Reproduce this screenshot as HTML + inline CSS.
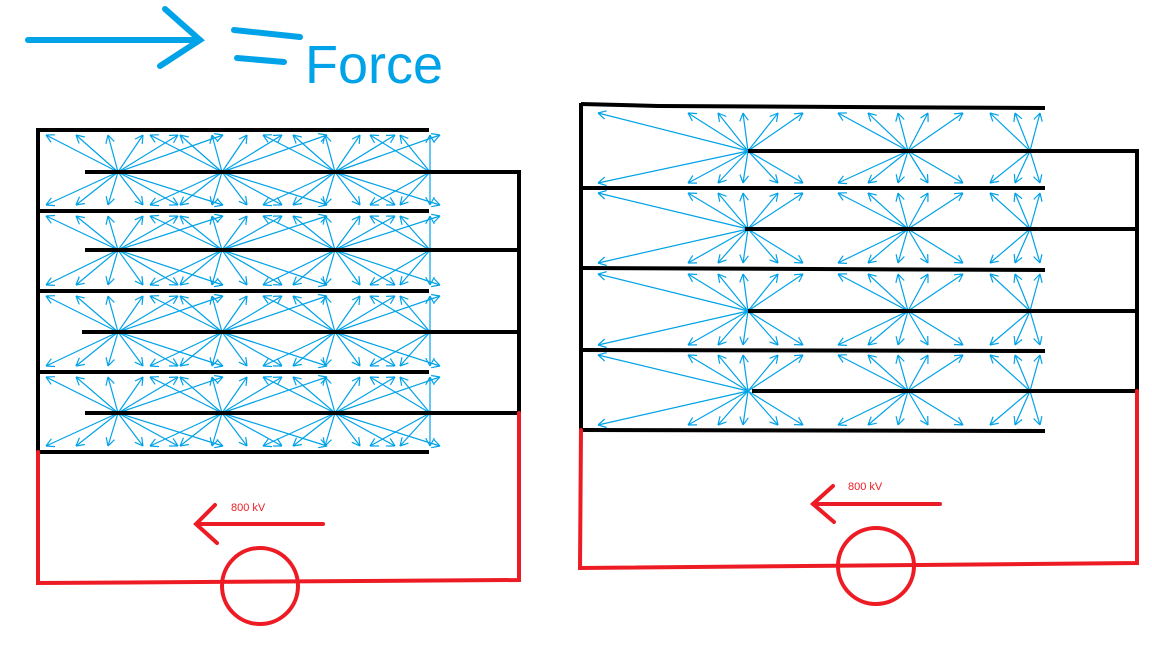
<!DOCTYPE html>
<html><head><meta charset="utf-8"><style>
html,body{margin:0;padding:0;background:#fff;width:1152px;height:648px;overflow:hidden}
svg{display:block}
</style></head><body>
<svg id="s" width="1152" height="648" viewBox="0 0 1152 648" xmlns="http://www.w3.org/2000/svg">
<g id="fans" stroke="#00a2e8" stroke-width="1.2" fill="none"></g>
<g stroke="#00a2e8" stroke-width="6" stroke-linecap="round" fill="none">
<line x1="28" y1="40" x2="200" y2="40"/>
<polyline points="165,9 200,40 160,66"/>
<line x1="234" y1="30" x2="300" y2="37"/>
<line x1="237" y1="58" x2="284" y2="62"/>
</g>
<text x="305" y="83" font-family="Liberation Sans, sans-serif" font-size="54" fill="#00a2e8">Force</text>
<g stroke="#000" stroke-width="4" fill="none" stroke-linecap="butt">
<line x1="38" y1="128" x2="38" y2="454"/>
<line x1="38" y1="130" x2="429" y2="130"/>
<line x1="38" y1="211" x2="429" y2="211"/>
<line x1="38" y1="291" x2="429" y2="291"/>
<line x1="38" y1="372" x2="429" y2="372"/>
<line x1="38" y1="452" x2="429" y2="452"/>
<line x1="519" y1="170" x2="519" y2="415"/>
<line x1="85" y1="172" x2="519" y2="172"/>
<line x1="85" y1="250" x2="519" y2="250"/>
<line x1="82" y1="332" x2="519" y2="332"/>
<line x1="85" y1="413" x2="519" y2="413"/>
</g>
<g stroke="#000" stroke-width="4" fill="none">
<line x1="581" y1="103" x2="581" y2="432"/>
<polyline points="581,104 658,106 1045,108"/>
<line x1="581" y1="188" x2="1045" y2="188"/>
<line x1="581" y1="268" x2="1045" y2="270"/>
<line x1="581" y1="350" x2="1045" y2="351"/>
<line x1="581" y1="430" x2="1045" y2="431"/>
<line x1="1137" y1="149" x2="1137" y2="393"/>
<line x1="748" y1="151" x2="1137" y2="151"/>
<line x1="745" y1="229" x2="1137" y2="229"/>
<line x1="748" y1="311" x2="1137" y2="311"/>
<line x1="752" y1="391" x2="1137" y2="391"/>
</g>
<g stroke="#ed1c24" stroke-width="4" fill="none" stroke-linecap="round">
<polyline points="38,452 38,583 519,580 519,413"/>
<circle cx="260" cy="586" r="38"/>
<line x1="323" y1="524" x2="197" y2="524"/>
<polyline points="215,505 196,524 217,543"/>
<polyline points="581,430 580,568 1137,563 1137,391"/>
<circle cx="876" cy="566" r="38"/>
<line x1="940" y1="504" x2="813" y2="504"/>
<polyline points="833,486 813,504 834,522"/>
</g>
<text x="231" y="511" font-family="Liberation Sans, sans-serif" font-size="11" fill="#ed1c24">800 kV</text>
<text x="848" y="490" font-family="Liberation Sans, sans-serif" font-size="11" fill="#ed1c24">800 kV</text>
</svg>
<script>
var g=document.getElementById('fans'),out='';
function arrow(x1,y1,x2,y2){
 out+='<line x1="'+x1+'" y1="'+y1+'" x2="'+x2+'" y2="'+y2+'"/>';
 var a=Math.atan2(y2-y1,x2-x1),L=9;
 for(var s=-1;s<=1;s+=2){var b=a+Math.PI+s*0.5;
  out+='<line x1="'+x2+'" y1="'+y2+'" x2="'+(x2+L*Math.cos(b)).toFixed(1)+'" y2="'+(y2+L*Math.sin(b)).toFixed(1)+'"/>';}
}
function fan(cx,cy,top,bot,offs){
 offs.forEach(function(o){arrow(cx,cy,cx+o,top);arrow(cx,cy,cx+o,bot);});
}
var L1=[-72,-42,-10,25,60,105];
[[172,135,205],[250,216,285],[332,296,366],[413,377,446]].forEach(function(r){
 [118,222,335,430].forEach(function(cx,i){
  var offs=i==3?[-60,-30,0]:L1;
  fan(cx,r[0],r[1],r[2],offs);
 });
});
var R1=[-150,-60,-30,-5,30,55];
[[151,113,183],[229,193,263],[311,274,345],[391,355,425]].forEach(function(r){
 [[748,R1],[908,[-70,-40,-10,20,55]],[1030,[-40,-15,10]]].forEach(function(f){
  fan(f[0],r[0],r[1],r[2],f[1]);
 });
});
g.innerHTML=out;
</script>
</body></html>
